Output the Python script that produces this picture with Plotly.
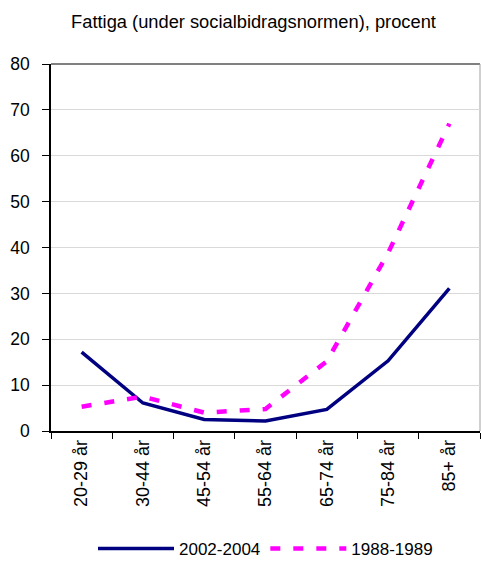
import plotly.graph_objects as go

categories = ["20-29 år", "30-44 år", "45-54 år", "55-64 år", "65-74 år", "75-84 år", "85+ år"]
s2002 = [17.2, 6.1, 2.5, 2.2, 4.7, 15.3, 31.1]
s1988 = [5.3, 7.5, 4.0, 4.8, 15.2, 38.8, 67.0]
yticks = [0, 10, 20, 30, 40, 50, 60, 70, 80]

font = "Liberation Sans, Arial, sans-serif"
narrow = "Liberation Sans Narrow, Arial Narrow, Liberation Sans, sans-serif"

fig = go.Figure()
fig.add_trace(go.Scatter(x=categories, y=s2002, mode="lines", name="2002-2004",
                         line=dict(color="#000080", width=3.5)))
fig.add_trace(go.Scatter(x=categories, y=s1988, mode="lines", name="1988-1989",
                         line=dict(color="#FF00FF", width=4.5, dash="10px,13px")))

fig.update_layout(
    width=481, height=567,
    margin=dict(l=51, r=1, t=64, b=135),
    paper_bgcolor="white", plot_bgcolor="white",
    font=dict(family=font, size=17, color="black"),
    title=dict(text="Fattiga (under socialbidragsnormen), procent", x=253.5 / 481, xanchor="center",
               xref="container", y=1 - 22 / 567, yanchor="middle", font=dict(size=18.3, family=font)),
    showlegend=True,
    legend=dict(orientation="h", x=0.5, xanchor="center", y=-0.27, yanchor="top",
                font=dict(size=17, family=font), itemwidth=76),
)
fig.update_xaxes(type="category", showline=True, linecolor="black", linewidth=1.5,
                 ticks="outside", tickson="boundaries", ticklen=6, tickcolor="black",
                 tickangle=-90, showgrid=False, range=[-0.5, 6.5], automargin=False,
                 tickfont=dict(size=18, family=narrow))
fig.update_yaxes(range=[0, 80], tickvals=yticks, showline=True, linecolor="black", linewidth=1.5,
                 ticks="outside", ticklen=7, tickcolor="black", showgrid=True,
                 gridcolor="#d9d9d9", gridwidth=1, zeroline=False, automargin=False,
                 ticklabelstandoff=9,
                 tickfont=dict(size=17.5, family=font))
fig.add_shape(type="line", xref="paper", yref="paper", x0=0, x1=1, y0=1, y1=1,
              line=dict(color="#808080", width=2), layer="below")
fig.add_shape(type="line", xref="paper", yref="paper", x0=1, x1=1, y0=0, y1=1,
              line=dict(color="#a0a0a0", width=1), layer="below")

fig.write_html("out.html", config={"displayModeBar": False},
               post_script="document.body.style.margin='0';")
